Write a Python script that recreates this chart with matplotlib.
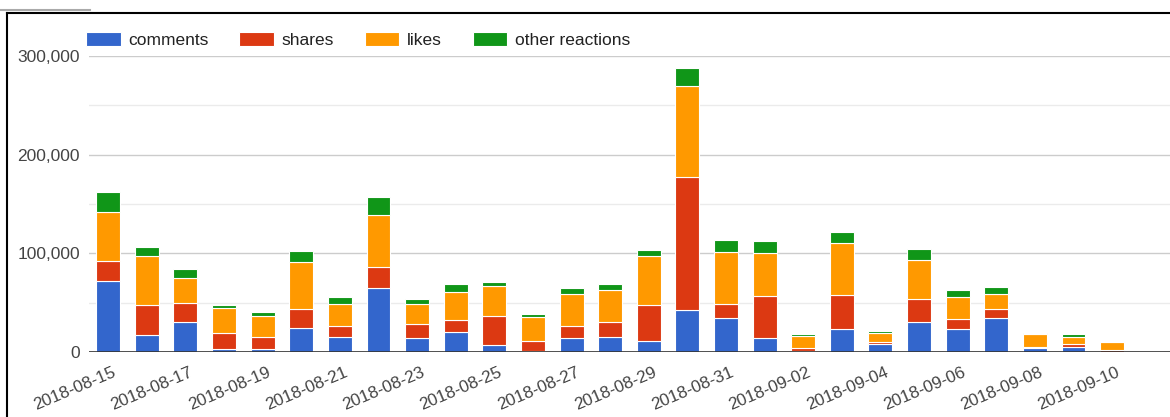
import numpy as np
import matplotlib
matplotlib.use('Agg')
from matplotlib import pyplot as plt
from matplotlib.lines import Line2D
from matplotlib.transforms import ScaledTranslation
from matplotlib.ticker import FuncFormatter, MultipleLocator

plt.rcParams['font.family'] = ['Liberation Sans', 'DejaVu Sans']

dates = ['2018-08-15', '2018-08-16', '2018-08-17', '2018-08-18', '2018-08-19',
         '2018-08-20', '2018-08-21', '2018-08-22', '2018-08-23', '2018-08-24',
         '2018-08-25', '2018-08-26', '2018-08-27', '2018-08-28', '2018-08-29',
         '2018-08-30', '2018-08-31', '2018-09-01', '2018-09-02', '2018-09-03',
         '2018-09-04', '2018-09-05', '2018-09-06', '2018-09-07', '2018-09-08',
         '2018-09-09', '2018-09-10', '2018-09-11']

comments = [72000, 17000, 30500, 2500, 2500, 24000, 15000, 65000, 14000, 20000,
            7500, 1000, 14000, 15000, 11500, 42000, 34000, 14000, 1000, 23700,
            8000, 30500, 23700, 34500, 4500, 5000, 300, 300]
shares = [20000, 30500, 19000, 17000, 13000, 20000, 11000, 21500, 14000, 12000,
          29000, 10500, 12000, 15000, 36000, 135000, 15000, 43000, 3500, 34500,
          2000, 23500, 9500, 9500, 800, 3500, 1500, 200]
likes = [50000, 49500, 25500, 25000, 21000, 47500, 23000, 52500, 21000, 29000,
         30500, 23500, 32500, 32500, 49500, 92000, 52000, 43500, 11500, 52000,
         8800, 39500, 22500, 15000, 13000, 7000, 8500, 300]
other = [20000, 9000, 9000, 3500, 3700, 10500, 6500, 17500, 4500, 7500,
         3500, 3000, 6000, 6000, 6500, 18500, 12000, 12000, 2300, 11000,
         2500, 11000, 7500, 7000, 1300, 2500, 0, 0]

series = [('comments', comments, '#3366cc'),
          ('shares', shares, '#dc3912'),
          ('likes', likes, '#ff9900'),
          ('other reactions', other, '#109618')]

fig = plt.figure(figsize=(11.7, 4.17), dpi=100)
ax = fig.add_axes([0.076, 0.156, 0.924, 0.71])

x = np.arange(len(dates))
bottom = np.zeros(len(dates))
for name, vals, color in series:
    vals = np.array(vals, dtype=float)
    ax.bar(x, vals, width=0.62, bottom=bottom, color=color, label=name,
           edgecolor='white', linewidth=0.8, zorder=3)
    bottom += vals

ax.set_xlim(-0.5, len(dates) - 0.5)
ax.set_ylim(0, 300000)
ax.yaxis.set_major_locator(MultipleLocator(100000))
ax.yaxis.set_minor_locator(MultipleLocator(50000))
ax.yaxis.set_major_formatter(FuncFormatter(lambda v, p: f'{int(v):,}'))
ax.grid(axis='y', which='major', color='#cccccc', linewidth=1, zorder=0)
ax.grid(axis='y', which='minor', color='#ebebeb', linewidth=1, zorder=0)
ax.axhline(0, color='#333333', linewidth=1.2, zorder=4)

for s in ax.spines.values():
    s.set_visible(False)

ax.set_xticks(x[::2])
ax.set_xticklabels(dates[::2], rotation=23, ha='right', rotation_mode='anchor')
ax.tick_params(axis='x', length=0, pad=9, labelsize=12.3, labelcolor='#444444')
ax.tick_params(axis='y', which='both', length=0, pad=6.5, labelsize=12.5,
               labelcolor='#444444')
shift = ScaledTranslation(4 / 100, 0, fig.dpi_scale_trans)
for lab in ax.get_xticklabels():
    lab.set_transform(lab.get_transform() + shift)

leg = ax.legend(loc='lower left', bbox_to_anchor=(-0.009, 1.003), ncol=4,
                frameon=False, handlelength=2.0, handleheight=0.8,
                handletextpad=0.45, columnspacing=1.75, fontsize=12.5,
                borderaxespad=0.3, borderpad=0.1)
for t in leg.get_texts():
    t.set_color('#222222')

# screenshot frame
fig.add_artist(Line2D([7 / 1170, 1.0], [1 - 13 / 417, 1 - 13 / 417],
                      color='black', linewidth=1.5))
fig.add_artist(Line2D([7 / 1170, 7 / 1170], [0, 1 - 13 / 417],
                      color='black', linewidth=1.5))
fig.add_artist(Line2D([0, 90 / 1170], [1 - 10 / 417, 1 - 10 / 417],
                      color='#aaaaaa', linewidth=1.5))

fig.savefig('out.png', dpi=100)
